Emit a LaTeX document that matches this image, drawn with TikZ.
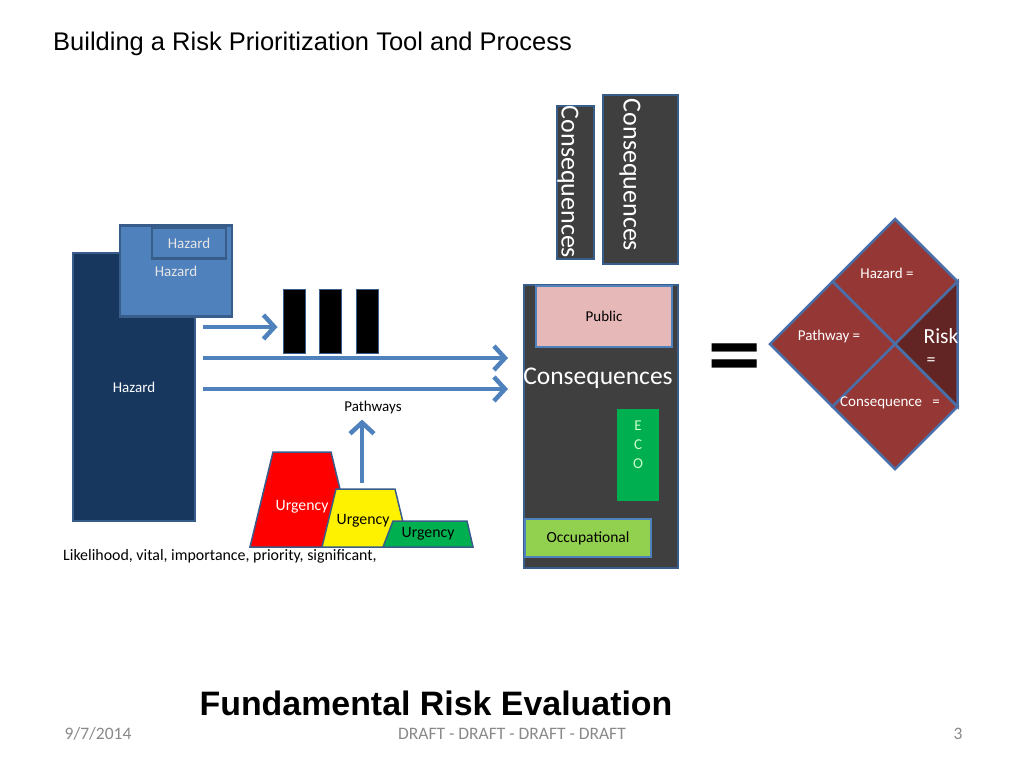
\documentclass[tikz,border=0pt]{standalone}
\usepackage{fontspec}
\setmainfont{Carlito}
\newfontfamily\arialf{Liberation Sans}
\newfontfamily\dejaf{DejaVu Sans}
\usetikzlibrary{arrows.meta}
\definecolor{navy}{HTML}{17375E}
\definecolor{midblue}{HTML}{4F81BD}
\definecolor{bord}{HTML}{385D8A}
\definecolor{dgrey}{HTML}{3F3F3F}
\definecolor{pub}{HTML}{E6B9B8}
\definecolor{eco}{HTML}{00B050}
\definecolor{occ}{HTML}{92D050}
\definecolor{lgreen}{HTML}{CCFFCC}
\definecolor{dred}{HTML}{953735}
\definecolor{ddred}{HTML}{632523}
\definecolor{dmbord}{HTML}{4A6EA8}
\definecolor{foot}{HTML}{898989}
\begin{document}
\begin{tikzpicture}[x=1pt,y=-1pt,
  box/.style={draw=bord, line width=1.5pt, inner sep=0pt, anchor=center},
  lbl/.style={inner sep=0pt, font=\fontsize{15}{17}\selectfont},
  arr/.style={draw=midblue, line width=4.5pt, -{Straight Barb[length=11pt,width=24pt]}},
  trap/.style={draw=bord, line width=1.5pt, line join=miter},
  dia/.style={draw=dmbord, line width=2.5pt, line join=miter}]
\useasboundingbox (0,0) rectangle (1024,768);
\fill[white] (0,0) rectangle (1024,768);

% title
\node[anchor=west, inner sep=0pt, font=\arialf\fontsize{25.5}{28}\selectfont] (title) at (53,44) {Building a Risk Prioritization Tool and Process};

% hazard boxes
\node[box, fill=navy, minimum width=122, minimum height=268, text=white, font=\fontsize{15}{17}\selectfont] (hz1) at (134,387) {Hazard};
\node[box, fill=midblue, line width=2.5pt, minimum width=112, minimum height=91, text=white!90!black, font=\fontsize{15}{17}\selectfont] (hz2) at (176,271) {Hazard};
\node[box, fill=midblue, line width=2.5pt, minimum width=74, minimum height=31, text=white!90!black, font=\fontsize{15}{17}\selectfont] (hz3) at (189,243) {Hazard};

% bars
\node[box, fill=black, line width=1pt, minimum width=22, minimum height=64] (b1) at (294,321) {};
\node[box, fill=black, line width=1pt, minimum width=22, minimum height=64] (b2) at (330.5,321) {};
\node[box, fill=black, line width=1pt, minimum width=22, minimum height=64] (b3) at (367.5,321) {};

% consequences main box
\node[box, fill=dgrey, line width=2pt, minimum width=154, minimum height=283] (cons) at (601,426.5) {};
\node[inner sep=0pt, text=white, font=\fontsize{25.5}{28}\selectfont] (consl) at (598,378) {Consequences};
\node[box, fill=pub, draw=midblue, line width=2pt, minimum width=136, minimum height=61, font=\fontsize{15}{17}\selectfont] (pub) at (604,316) {Public};
\node[box, draw=none, fill=eco, minimum width=42, minimum height=92] (eco) at (638,455) {};
\node[inner sep=0pt, align=center, text=lgreen, font=\fontsize{15}{19}\selectfont] (ecol) at (638,445) {E\\C\\O};
\node[box, fill=occ, draw=midblue, line width=2pt, minimum width=126, minimum height=38, font=\fontsize{15.5}{17}\selectfont] (occ) at (588,538) {Occupational};

% rotated consequences boxes
\node[box, fill=dgrey, line width=2pt, minimum width=37, minimum height=153] (c1) at (575,182.5) {};
\node[inner sep=0pt, rotate=-90, text=white, font=\fontsize{26}{28}\selectfont] (c1l) at (568,182) {Consequences};
\node[box, fill=dgrey, line width=2pt, minimum width=75, minimum height=169] (c2) at (640.5,179.5) {};
\node[inner sep=0pt, rotate=-90, text=white, font=\fontsize{26}{28}\selectfont] (c2l) at (630,175) {Consequences};

% arrows
\coordinate (s1) at (203,327);
\coordinate (s2) at (203,358);
\coordinate (s3) at (203,389);
\draw[arr, shorten >=5pt] (s1) -- (s1 -| b1.west);
\draw[arr, shorten >=15pt] (s2) -- (s2 -| cons.west);
\draw[arr, shorten >=15pt] (s3) -- (s3 -| cons.west);

% pathways
\node[lbl] (path) at (373,407) {Pathways};
\coordinate (v1) at (362,483);
\draw[arr, shorten >=6pt] (v1) -- (v1 |- path.south);

% urgency trapezoids
\draw[trap, fill=red] (250,547) -- (273,452) -- (331,452) -- (354,547) -- cycle;
\node[lbl, text=white, font=\fontsize{15.8}{17}\selectfont] (u1) at (302,507) {Urgency};
\draw[trap, fill=yellow] (322,547) -- (336,489) -- (395,489) -- (409,547) -- cycle;
\node[lbl, font=\fontsize{15.8}{17}\selectfont] (u2) at (363,521) {Urgency};
\draw[trap, fill=eco] (383,547) -- (393,521) -- (467,521) -- (473,547) -- cycle;
\node[lbl, font=\fontsize{15.8}{17}\selectfont] (u3) at (428,534) {Urgency};

\node[lbl, anchor=west, font=\fontsize{15.9}{17}\selectfont] (likely) at (63,556) {Likelihood, vital, importance, priority, significant,};

% equals
\node[inner sep=0pt, font=\dejaf\bfseries\fontsize{72}{74}\selectfont] (eq) at (735,361) {=};

% diamond
\coordinate (C) at (895,344);
\draw[dia, fill=dred] (C) -- (832.5,281.5) -- (895,219) -- (957.5,281.5) -- cycle;
\draw[dia, fill=dred] (C) -- (832.5,281.5) -- (770,344) -- (832.5,406.5) -- cycle;
\draw[dia, fill=dred] (C) -- (832.5,406.5) -- (895,469) -- (957.5,406.5) -- cycle;
\draw[dia, fill=ddred] (C) -- (957.5,281.5) -- (957.5,406.5) -- cycle;
\node[lbl, text=white] (dh) at (887,273) {Hazard =};
\node[lbl, text=white] (dp) at (829,336) {Pathway =};
\node[lbl, text=white] (dc) at (890,403) {Consequence\ \ \ =};
\node[inner sep=0pt, text=white, font=\fontsize{21.5}{23}\selectfont] (dr) at (941,336) {Risk};
\node[inner sep=0pt, text=white, font=\fontsize{18}{20}\selectfont] (dre) at (931,362) {=};

% footer
\node[inner sep=0pt, anchor=base, font=\arialf\bfseries\fontsize{33.9}{36}\selectfont] (fre) at (436,715) {Fundamental Risk Evaluation};
\node[inner sep=0pt, anchor=base, text=foot, font=\fontsize{17.5}{19}\selectfont] (date) at (98,739) {9/7/2014};
\node[inner sep=0pt, anchor=base, text=foot, font=\fontsize{17.5}{19}\selectfont] (draft) at (512,739) {DRAFT - DRAFT - DRAFT - DRAFT};
\node[inner sep=0pt, anchor=base, text=foot, font=\fontsize{17.5}{19}\selectfont] (pg) at (958,739) {3};
\end{tikzpicture}
\end{document}
